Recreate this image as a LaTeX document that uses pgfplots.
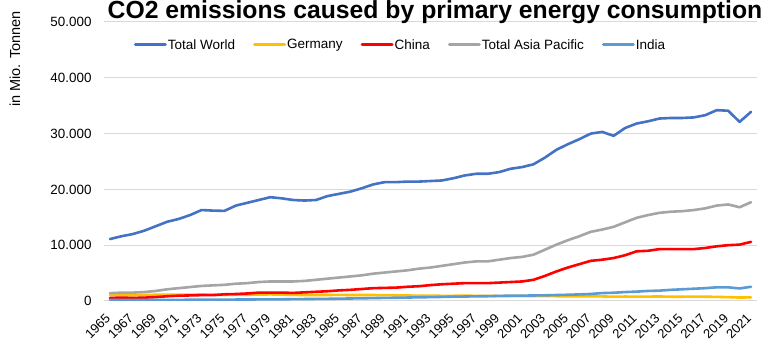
\documentclass[border=0pt]{standalone}
\usepackage{pgfplots}
\pgfplotsset{compat=1.18}
\usepackage{fontspec}
\setmainfont{Liberation Sans}
\definecolor{cWorld}{HTML}{4472C4}
\definecolor{cGer}{HTML}{FFC000}
\definecolor{cChina}{HTML}{FF0000}
\definecolor{cAsia}{HTML}{A5A5A5}
\definecolor{cIndia}{HTML}{5B9BD5}
\definecolor{cGrid}{HTML}{D9D9D9}
\begin{document}
\begin{tikzpicture}
\begin{axis}[
  at={(0pt,0pt)}, anchor=south west,
  scale only axis, width=653pt, height=279pt,
  xmin=1964.48, xmax=2021.52, ymin=0, ymax=50000,
  axis line style={draw=none},
  major tick length=0pt,
  ymajorgrids, grid style={cGrid, line width=1pt},
  ytick={0,10000,20000,30000,40000,50000},
  scaled y ticks=false,
  xtick={1965,1967,...,2021},
  /pgf/number format/assume math mode=true,
  y tick label style={/pgf/number format/.cd, fixed, 1000 sep={.}, /tikz/.cd, font=\fontsize{13.4}{15}\selectfont, xshift=-9pt},
  x tick label style={/pgf/number format/.cd, fixed, 1000 sep={}, /tikz/.cd, xshift=-2pt, yshift=-15pt, rotate=45, anchor=east, font=\fontsize{13}{14}\selectfont, inner sep=0pt},
  legend columns=5,
  legend style={draw=none, fill=none, at={(0.4533,0.9176)}, anchor=center, font=\fontsize{13.5}{15}\selectfont,
    /tikz/every even column/.append style={column sep=17pt}, nodes={inner sep=1pt}},
  legend image code/.code={\draw[#1, line width=3pt] (0pt,0pt) -- (30pt,0pt);},
  every axis plot/.append style={line width=2.6pt, line join=round, line cap=round},
]
\addplot[cWorld, mark=none] coordinates {
(1965,11100)(1966,11600)(1967,12000)(1968,12600)(1969,13400)(1970,14200)(1971,14700)(1972,15400)(1973,16300)(1974,16200)
(1975,16150)(1976,17100)(1977,17600)(1978,18100)(1979,18600)(1980,18400)(1981,18100)(1982,18000)(1983,18100)(1984,18800)
(1985,19200)(1986,19600)(1987,20200)(1988,20900)(1989,21300)(1990,21300)(1991,21400)(1992,21400)(1993,21500)(1994,21600)
(1995,22000)(1996,22500)(1997,22800)(1998,22800)(1999,23100)(2000,23700)(2001,24000)(2002,24500)(2003,25700)(2004,27100)
(2005,28100)(2006,29000)(2007,30000)(2008,30300)(2009,29600)(2010,31000)(2011,31800)(2012,32200)(2013,32700)(2014,32800)
(2015,32800)(2016,32900)(2017,33300)(2018,34200)(2019,34100)(2020,32100)(2021,33900)};
\addlegendentry{Total World}
\addplot[cGer, mark=none] coordinates {
(1965,1050)(1966,1050)(1967,1030)(1968,1080)(1969,1120)(1970,1130)(1971,1120)(1972,1130)(1973,1170)(1974,1140)
(1975,1080)(1976,1140)(1977,1120)(1978,1150)(1979,1180)(1980,1140)(1981,1100)(1982,1060)(1983,1060)(1984,1080)
(1985,1090)(1986,1080)(1987,1070)(1988,1070)(1989,1050)(1990,1030)(1991,990)(1992,950)(1993,940)(1994,930)
(1995,930)(1996,950)(1997,920)(1998,910)(1999,880)(2000,880)(2001,890)(2002,870)(2003,870)(2004,860)
(2005,840)(2006,850)(2007,820)(2008,820)(2009,770)(2010,800)(2011,780)(2012,790)(2013,810)(2014,770)
(2015,770)(2016,780)(2017,770)(2018,740)(2019,690)(2020,620)(2021,650)};
\addlegendentry{Germany}
\addplot[cChina, mark=none] coordinates {
(1965,550)(1966,600)(1967,550)(1968,600)(1969,700)(1970,850)(1971,950)(1972,1000)(1973,1050)(1974,1050)
(1975,1200)(1976,1250)(1977,1350)(1978,1500)(1979,1500)(1980,1500)(1981,1450)(1982,1550)(1983,1650)(1984,1750)
(1985,1900)(1986,2000)(1987,2150)(1988,2300)(1989,2350)(1990,2400)(1991,2550)(1992,2650)(1993,2850)(1994,3000)
(1995,3100)(1996,3200)(1997,3200)(1998,3200)(1999,3300)(2000,3400)(2001,3500)(2002,3800)(2003,4500)(2004,5300)
(2005,6000)(2006,6600)(2007,7200)(2008,7400)(2009,7700)(2010,8200)(2011,8900)(2012,9000)(2013,9300)(2014,9300)
(2015,9300)(2016,9300)(2017,9500)(2018,9800)(2019,10000)(2020,10100)(2021,10600)};
\addlegendentry{China}
\addplot[cAsia, mark=none] coordinates {
(1965,1400)(1966,1500)(1967,1500)(1968,1600)(1969,1800)(1970,2100)(1971,2300)(1972,2500)(1973,2700)(1974,2800)
(1975,2900)(1976,3100)(1977,3200)(1978,3400)(1979,3500)(1980,3500)(1981,3500)(1982,3600)(1983,3800)(1984,4000)
(1985,4200)(1986,4400)(1987,4600)(1988,4900)(1989,5100)(1990,5300)(1991,5500)(1992,5800)(1993,6000)(1994,6300)
(1995,6600)(1996,6900)(1997,7100)(1998,7100)(1999,7400)(2000,7700)(2001,7900)(2002,8300)(2003,9200)(2004,10100)
(2005,10900)(2006,11600)(2007,12400)(2008,12800)(2009,13300)(2010,14100)(2011,14900)(2012,15400)(2013,15800)(2014,16000)
(2015,16100)(2016,16300)(2017,16600)(2018,17100)(2019,17300)(2020,16800)(2021,17700)};
\addlegendentry{Total Asia Pacific}
\addplot[cIndia, mark=none] coordinates {
(1965,170)(1966,180)(1967,180)(1968,190)(1969,200)(1970,200)(1971,210)(1972,220)(1973,230)(1974,240)
(1975,250)(1976,260)(1977,270)(1978,280)(1979,300)(1980,300)(1981,330)(1982,350)(1983,370)(1984,390)
(1985,420)(1986,450)(1987,480)(1988,520)(1989,560)(1990,580)(1991,620)(1992,660)(1993,690)(1994,730)
(1995,780)(1996,800)(1997,840)(1998,860)(1999,920)(2000,950)(2001,960)(2002,990)(2003,1020)(2004,1070)
(2005,1120)(2006,1180)(2007,1260)(2008,1420)(2009,1480)(2010,1600)(2011,1680)(2012,1800)(2013,1860)(2014,2000)
(2015,2100)(2016,2200)(2017,2300)(2018,2450)(2019,2450)(2020,2250)(2021,2550)};
\addlegendentry{India}
\end{axis}
\node[anchor=base, font=\fontsize{24.75}{28}\selectfont\bfseries] at (331pt,282pt) {CO2 emissions caused by primary energy consumption};
\node[rotate=90, font=\fontsize{14.5}{16}\selectfont] at (-89pt,242pt) {in Mio. Tonnen};
\pgfresetboundingbox
\path (-104pt,-57pt) rectangle (663pt,301pt);
\end{tikzpicture}
\end{document}
